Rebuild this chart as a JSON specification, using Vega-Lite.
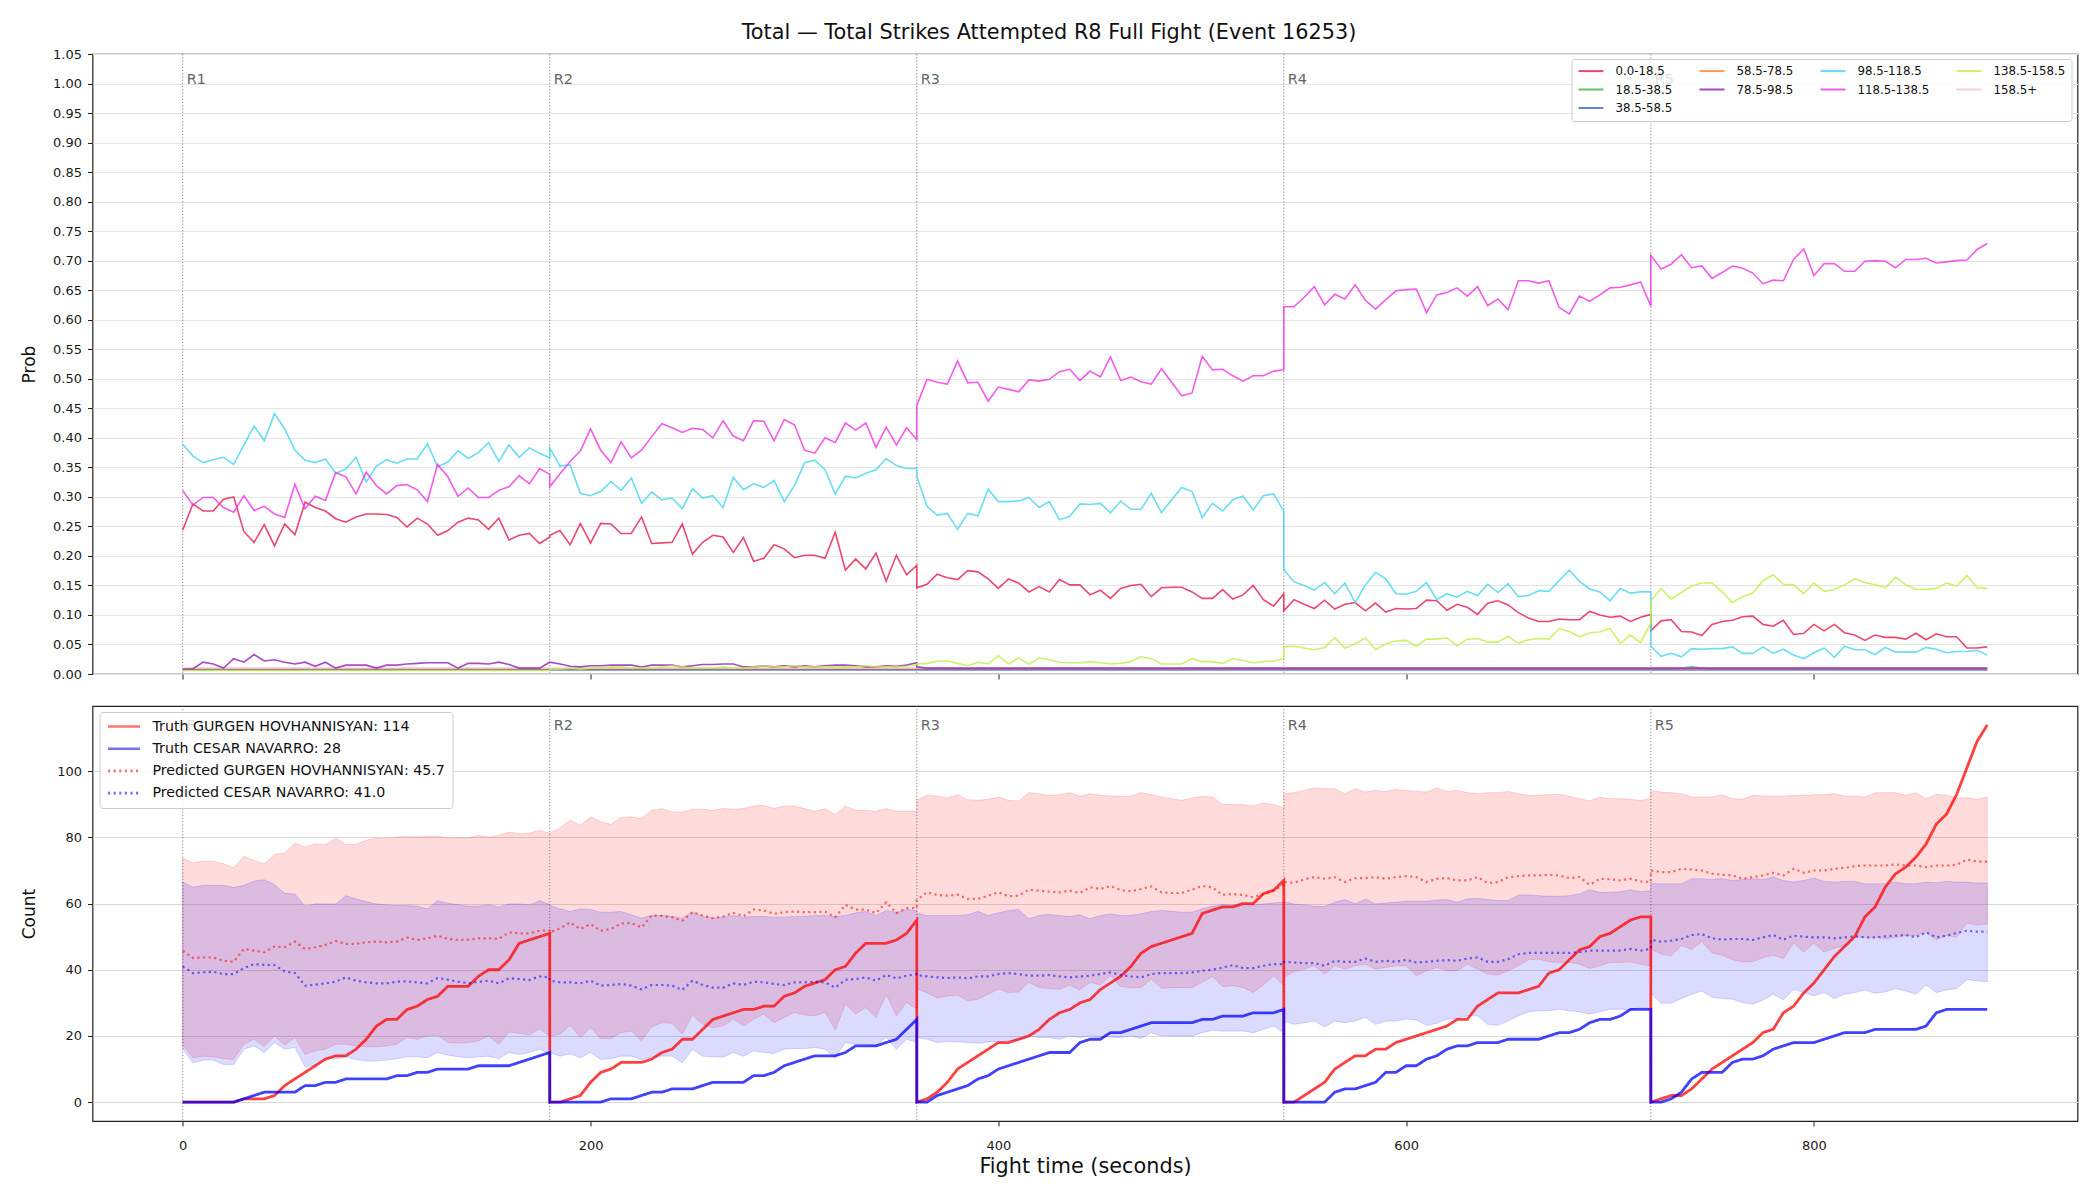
{
"$schema": "https://vega.github.io/schema/vega-lite/v6.json",
"background": "white",
"padding": {"left": 19.5, "top": 21, "right": 22, "bottom": 8},
"title": {"text": "Total — Total Strikes Attempted R8 Full Fight (Event 16253)", "font": "DejaVu Sans", "fontSize": 20.8, "fontWeight": "normal", "color": "#111", "offset": 4, "anchor": "middle"},
"config": {
  "font": "DejaVu Sans",
  "view": {"stroke": "#222", "strokeWidth": 1.2},
  "axis": {"labelFont": "DejaVu Sans", "labelFontSize": 13, "labelColor": "#1a1a1a", "titleFont": "DejaVu Sans", "titleFontWeight": "normal", "titleColor": "#111", "tickColor": "#222", "tickSize": 5, "tickWidth": 1, "domain": false, "labelPadding": 6, "labelFlush": false, "labelOverlap": false, "gridColor": "#e4e4e4", "gridWidth": 1},
  "legend": {"labelFont": "DejaVu Sans", "labelColor": "#111"}
},
"datasets": {
"rounds": [{"t":0,"r":"R1"},{"t":180,"r":"R2"},{"t":360,"r":"R3"},{"t":540,"r":"R4"},{"t":720,"r":"R5"}],
"flat": [
{"bin":"g","t":0,"v":0.008},{"bin":"g","t":730,"v":0.008},{"bin":"g","t":740,"v":0.012},{"bin":"g","t":750,"v":0.008},{"bin":"g","t":885,"v":0.008},
{"bin":"b","t":0,"v":0.007},{"bin":"b","t":885,"v":0.007},
{"bin":"o","t":0,"v":0.009},{"bin":"o","t":885,"v":0.009},
{"bin":"k","t":0,"v":0.01},{"bin":"k","t":885,"v":0.01}
],
"d": [
{"i":0,"t":0,"a":0.244,"p":0.008,"c":0.389,"m":0.311,"l":0.006,"tg":0,"tc":0,"pg":45.7,"pc":41.0,"gl":17.2,"gh":73.7,"cl":16.0,"ch":66.5},
{"i":1,"t":5,"a":0.288,"p":0.009,"c":0.369,"m":0.286,"l":0.006,"tg":0,"tc":0,"pg":43.6,"pc":39.0,"gl":13.4,"gh":72.3,"cl":11.9,"ch":64.9},
{"i":2,"t":10,"a":0.276,"p":0.020,"c":0.358,"m":0.299,"l":0.006,"tg":0,"tc":0,"pg":43.7,"pc":39.2,"gl":13.9,"gh":72.8,"cl":12.7,"ch":65.5},
{"i":3,"t":15,"a":0.276,"p":0.017,"c":0.363,"m":0.299,"l":0.006,"tg":0,"tc":0,"pg":43.7,"pc":39.4,"gl":13.7,"gh":72.8,"cl":12.7,"ch":65.5},
{"i":4,"t":20,"a":0.296,"p":0.010,"c":0.367,"m":0.282,"l":0.006,"tg":0,"tc":0,"pg":42.7,"pc":38.7,"gl":13.1,"gh":72.0,"cl":11.4,"ch":65.5},
{"i":5,"t":25,"a":0.300,"p":0.026,"c":0.355,"m":0.274,"l":0.006,"tg":0,"tc":0,"pg":42.4,"pc":38.7,"gl":12.9,"gh":70.8,"cl":11.4,"ch":64.9},
{"i":6,"t":30,"a":0.241,"p":0.020,"c":0.388,"m":0.302,"l":0.006,"tg":1,"tc":1,"pg":46.3,"pc":40.5,"gl":17.5,"gh":74.3,"cl":16.0,"ch":65.5},
{"i":7,"t":35,"a":0.223,"p":0.033,"c":0.420,"m":0.277,"l":0.006,"tg":1,"tc":2,"pg":45.8,"pc":41.7,"gl":19.0,"gh":73.0,"cl":17.0,"ch":66.8},
{"i":8,"t":40,"a":0.253,"p":0.022,"c":0.395,"m":0.284,"l":0.006,"tg":1,"tc":3,"pg":45.3,"pc":41.5,"gl":16.8,"gh":72.0,"cl":15.0,"ch":67.2},
{"i":9,"t":45,"a":0.217,"p":0.024,"c":0.441,"m":0.271,"l":0.006,"tg":2,"tc":3,"pg":47.0,"pc":41.4,"gl":20.0,"gh":74.8,"cl":18.0,"ch":65.7},
{"i":10,"t":50,"a":0.254,"p":0.020,"c":0.415,"m":0.265,"l":0.006,"tg":5,"tc":3,"pg":46.8,"pc":39.5,"gl":17.2,"gh":75.3,"cl":16.0,"ch":63.1},
{"i":11,"t":55,"a":0.236,"p":0.017,"c":0.379,"m":0.321,"l":0.006,"tg":7,"tc":3,"pg":48.5,"pc":39.0,"gl":19.5,"gh":78.3,"cl":16.5,"ch":62.9},
{"i":12,"t":60,"a":0.291,"p":0.020,"c":0.362,"m":0.280,"l":0.006,"tg":9,"tc":5,"pg":46.3,"pc":35.2,"gl":14.4,"gh":77.1,"cl":10.7,"ch":59.2},
{"i":13,"t":65,"a":0.282,"p":0.013,"c":0.358,"m":0.301,"l":0.006,"tg":11,"tc":5,"pg":46.8,"pc":35.5,"gl":15.5,"gh":78.1,"cl":11.1,"ch":59.9},
{"i":14,"t":70,"a":0.276,"p":0.020,"c":0.364,"m":0.294,"l":0.006,"tg":13,"tc":6,"pg":47.5,"pc":35.9,"gl":16.0,"gh":77.8,"cl":13.1,"ch":59.9},
{"i":15,"t":75,"a":0.263,"p":0.010,"c":0.340,"m":0.341,"l":0.006,"tg":14,"tc":6,"pg":48.7,"pc":36.4,"gl":17.5,"gh":79.8,"cl":13.1,"ch":59.9},
{"i":16,"t":80,"a":0.257,"p":0.015,"c":0.347,"m":0.334,"l":0.006,"tg":14,"tc":7,"pg":47.8,"pc":37.7,"gl":17.5,"gh":77.8,"cl":13.7,"ch":62.4},
{"i":17,"t":85,"a":0.266,"p":0.015,"c":0.367,"m":0.305,"l":0.006,"tg":16,"tc":7,"pg":47.8,"pc":36.7,"gl":17.0,"gh":77.9,"cl":12.9,"ch":61.4},
{"i":18,"t":90,"a":0.271,"p":0.015,"c":0.325,"m":0.342,"l":0.006,"tg":19,"tc":7,"pg":48.3,"pc":36.2,"gl":16.7,"gh":79.1,"cl":12.4,"ch":60.6},
{"i":19,"t":95,"a":0.271,"p":0.010,"c":0.352,"m":0.319,"l":0.006,"tg":23,"tc":7,"pg":48.5,"pc":35.9,"gl":16.7,"gh":79.8,"cl":12.4,"ch":59.9},
{"i":20,"t":100,"a":0.270,"p":0.015,"c":0.363,"m":0.305,"l":0.006,"tg":25,"tc":7,"pg":48.3,"pc":35.9,"gl":17.0,"gh":79.6,"cl":12.7,"ch":59.6},
{"i":21,"t":105,"a":0.265,"p":0.015,"c":0.357,"m":0.319,"l":0.006,"tg":25,"tc":8,"pg":48.5,"pc":36.4,"gl":17.5,"gh":80.1,"cl":13.1,"ch":59.4},
{"i":22,"t":110,"a":0.249,"p":0.017,"c":0.364,"m":0.321,"l":0.006,"tg":28,"tc":8,"pg":49.7,"pc":36.5,"gl":19.5,"gh":80.3,"cl":13.7,"ch":59.4},
{"i":23,"t":115,"a":0.264,"p":0.018,"c":0.364,"m":0.312,"l":0.006,"tg":29,"tc":9,"pg":49.0,"pc":36.2,"gl":19.0,"gh":80.1,"cl":13.7,"ch":59.2},
{"i":24,"t":120,"a":0.254,"p":0.019,"c":0.390,"m":0.292,"l":0.006,"tg":31,"tc":9,"pg":49.5,"pc":35.9,"gl":20.0,"gh":80.3,"cl":13.4,"ch":58.4},
{"i":25,"t":125,"a":0.235,"p":0.019,"c":0.351,"m":0.355,"l":0.006,"tg":32,"tc":10,"pg":50.3,"pc":37.5,"gl":20.2,"gh":80.4,"cl":15.0,"ch":60.9},
{"i":26,"t":130,"a":0.243,"p":0.019,"c":0.359,"m":0.334,"l":0.006,"tg":35,"tc":10,"pg":49.3,"pc":37.0,"gl":18.0,"gh":79.8,"cl":14.2,"ch":60.1},
{"i":27,"t":135,"a":0.257,"p":0.010,"c":0.378,"m":0.301,"l":0.006,"tg":35,"tc":10,"pg":49.0,"pc":36.4,"gl":17.8,"gh":79.9,"cl":13.7,"ch":59.7},
{"i":28,"t":140,"a":0.264,"p":0.018,"c":0.365,"m":0.315,"l":0.006,"tg":35,"tc":10,"pg":49.1,"pc":35.9,"gl":18.0,"gh":79.8,"cl":13.4,"ch":59.2},
{"i":29,"t":145,"a":0.261,"p":0.018,"c":0.375,"m":0.299,"l":0.006,"tg":38,"tc":11,"pg":49.5,"pc":36.4,"gl":18.5,"gh":80.6,"cl":13.7,"ch":59.2},
{"i":30,"t":150,"a":0.245,"p":0.017,"c":0.392,"m":0.299,"l":0.006,"tg":40,"tc":11,"pg":49.5,"pc":36.7,"gl":20.0,"gh":80.1,"cl":13.9,"ch":59.6},
{"i":31,"t":155,"a":0.264,"p":0.020,"c":0.360,"m":0.311,"l":0.006,"tg":40,"tc":11,"pg":49.3,"pc":35.9,"gl":17.5,"gh":80.6,"cl":13.1,"ch":59.0},
{"i":32,"t":160,"a":0.227,"p":0.016,"c":0.388,"m":0.317,"l":0.006,"tg":43,"tc":11,"pg":51.3,"pc":37.4,"gl":21.2,"gh":81.6,"cl":15.0,"ch":59.9},
{"i":33,"t":165,"a":0.235,"p":0.010,"c":0.367,"m":0.336,"l":0.006,"tg":48,"tc":12,"pg":51.0,"pc":37.2,"gl":20.8,"gh":81.1,"cl":14.4,"ch":59.9},
{"i":34,"t":170,"a":0.238,"p":0.010,"c":0.383,"m":0.322,"l":0.006,"tg":49,"tc":13,"pg":51.0,"pc":36.9,"gl":20.3,"gh":81.3,"cl":15.0,"ch":59.6},
{"i":35,"t":175,"a":0.221,"p":0.010,"c":0.374,"m":0.348,"l":0.006,"tg":50,"tc":14,"pg":51.8,"pc":38.0,"gl":22.2,"gh":82.1,"cl":16.0,"ch":60.9},
{"i":36,"t":180,"a":0.232,"p":0.020,"c":0.366,"m":0.338,"l":0.006,"tg":51,"tc":15,"pg":51.8,"pc":37.7,"gl":20.0,"gh":81.3,"cl":14.4,"ch":59.7},
{"i":37,"t":180,"a":0.235,"p":0.020,"c":0.383,"m":0.317,"l":0.008,"tg":0,"tc":0,"pg":51.3,"pc":36.7,"gl":20.0,"gh":81.3,"cl":15.0,"ch":59.4},
{"i":38,"t":185,"a":0.243,"p":0.017,"c":0.352,"m":0.339,"l":0.008,"tg":0,"tc":0,"pg":52.5,"pc":36.2,"gl":20.5,"gh":82.8,"cl":13.9,"ch":58.4},
{"i":39,"t":190,"a":0.219,"p":0.013,"c":0.354,"m":0.360,"l":0.010,"tg":1,"tc":0,"pg":54.3,"pc":36.2,"gl":23.2,"gh":85.2,"cl":14.6,"ch":57.6},
{"i":40,"t":195,"a":0.255,"p":0.012,"c":0.306,"m":0.378,"l":0.008,"tg":2,"tc":0,"pg":52.3,"pc":35.9,"gl":19.5,"gh":83.6,"cl":13.4,"ch":58.4},
{"i":41,"t":200,"a":0.222,"p":0.014,"c":0.302,"m":0.415,"l":0.010,"tg":6,"tc":0,"pg":53.8,"pc":36.7,"gl":22.5,"gh":86.2,"cl":15.0,"ch":58.2},
{"i":42,"t":205,"a":0.255,"p":0.014,"c":0.309,"m":0.379,"l":0.010,"tg":9,"tc":0,"pg":51.8,"pc":35.2,"gl":19.2,"gh":84.8,"cl":12.9,"ch":57.4},
{"i":43,"t":210,"a":0.254,"p":0.015,"c":0.326,"m":0.358,"l":0.012,"tg":10,"tc":1,"pg":52.3,"pc":35.4,"gl":19.2,"gh":83.9,"cl":13.1,"ch":57.4},
{"i":44,"t":215,"a":0.238,"p":0.015,"c":0.311,"m":0.393,"l":0.012,"tg":12,"tc":1,"pg":54.0,"pc":35.7,"gl":21.0,"gh":86.0,"cl":13.9,"ch":57.6},
{"i":45,"t":220,"a":0.238,"p":0.015,"c":0.332,"m":0.366,"l":0.010,"tg":12,"tc":1,"pg":54.1,"pc":35.2,"gl":21.5,"gh":86.2,"cl":13.9,"ch":56.6},
{"i":46,"t":225,"a":0.266,"p":0.012,"c":0.289,"m":0.379,"l":0.010,"tg":12,"tc":2,"pg":52.8,"pc":34.1,"gl":18.5,"gh":85.7,"cl":12.9,"ch":55.6},
{"i":47,"t":230,"a":0.221,"p":0.015,"c":0.308,"m":0.402,"l":0.010,"tg":13,"tc":3,"pg":56.4,"pc":35.4,"gl":22.8,"gh":88.2,"cl":13.7,"ch":56.4},
{"i":48,"t":235,"a":0.222,"p":0.015,"c":0.295,"m":0.424,"l":0.012,"tg":15,"tc":3,"pg":56.3,"pc":35.4,"gl":24.0,"gh":88.7,"cl":13.9,"ch":56.4},
{"i":49,"t":240,"a":0.223,"p":0.015,"c":0.298,"m":0.417,"l":0.014,"tg":16,"tc":4,"pg":55.9,"pc":35.2,"gl":23.8,"gh":87.7,"cl":13.9,"ch":56.1},
{"i":50,"t":245,"a":0.254,"p":0.012,"c":0.280,"m":0.409,"l":0.012,"tg":19,"tc":4,"pg":54.8,"pc":33.9,"gl":20.5,"gh":87.7,"cl":11.9,"ch":55.6},
{"i":51,"t":250,"a":0.203,"p":0.014,"c":0.314,"m":0.416,"l":0.010,"tg":19,"tc":4,"pg":57.4,"pc":36.7,"gl":26.3,"gh":88.5,"cl":16.0,"ch":57.4},
{"i":52,"t":255,"a":0.223,"p":0.016,"c":0.298,"m":0.414,"l":0.010,"tg":22,"tc":5,"pg":56.4,"pc":35.4,"gl":23.5,"gh":88.5,"cl":13.9,"ch":56.1},
{"i":53,"t":260,"a":0.235,"p":0.016,"c":0.302,"m":0.400,"l":0.010,"tg":25,"tc":6,"pg":55.6,"pc":34.6,"gl":22.5,"gh":88.2,"cl":13.7,"ch":55.6},
{"i":54,"t":265,"a":0.232,"p":0.017,"c":0.282,"m":0.429,"l":0.012,"tg":26,"tc":6,"pg":56.1,"pc":34.6,"gl":23.0,"gh":88.7,"cl":13.6,"ch":55.9},
{"i":55,"t":270,"a":0.206,"p":0.017,"c":0.333,"m":0.403,"l":0.010,"tg":27,"tc":6,"pg":57.2,"pc":35.9,"gl":25.1,"gh":88.5,"cl":15.0,"ch":56.4},
{"i":56,"t":275,"a":0.231,"p":0.012,"c":0.312,"m":0.395,"l":0.010,"tg":28,"tc":6,"pg":56.2,"pc":35.4,"gl":23.0,"gh":88.7,"cl":13.9,"ch":55.9},
{"i":57,"t":280,"a":0.191,"p":0.012,"c":0.322,"m":0.429,"l":0.012,"tg":28,"tc":8,"pg":58.2,"pc":36.4,"gl":25.1,"gh":89.5,"cl":15.5,"ch":56.1},
{"i":58,"t":285,"a":0.196,"p":0.014,"c":0.316,"m":0.428,"l":0.014,"tg":29,"tc":8,"pg":57.9,"pc":36.2,"gl":26.6,"gh":89.7,"cl":15.0,"ch":56.1},
{"i":59,"t":290,"a":0.219,"p":0.012,"c":0.328,"m":0.395,"l":0.012,"tg":29,"tc":9,"pg":56.9,"pc":35.7,"gl":24.0,"gh":88.7,"cl":14.7,"ch":55.9},
{"i":60,"t":295,"a":0.212,"p":0.014,"c":0.292,"m":0.431,"l":0.012,"tg":32,"tc":11,"pg":57.4,"pc":35.4,"gl":25.6,"gh":89.5,"cl":16.0,"ch":55.9},
{"i":61,"t":300,"a":0.197,"p":0.012,"c":0.319,"m":0.422,"l":0.014,"tg":33,"tc":12,"pg":57.6,"pc":36.2,"gl":27.1,"gh":89.5,"cl":16.2,"ch":56.1},
{"i":62,"t":305,"a":0.201,"p":0.014,"c":0.358,"m":0.379,"l":0.012,"tg":35,"tc":13,"pg":57.4,"pc":36.2,"gl":26.3,"gh":88.7,"cl":16.2,"ch":56.2},
{"i":63,"t":310,"a":0.201,"p":0.012,"c":0.362,"m":0.374,"l":0.012,"tg":36,"tc":14,"pg":57.4,"pc":36.4,"gl":26.1,"gh":87.9,"cl":16.5,"ch":56.4},
{"i":64,"t":315,"a":0.196,"p":0.014,"c":0.346,"m":0.400,"l":0.012,"tg":37,"tc":14,"pg":57.6,"pc":36.2,"gl":27.1,"gh":88.7,"cl":16.0,"ch":56.4},
{"i":65,"t":320,"a":0.240,"p":0.015,"c":0.305,"m":0.392,"l":0.012,"tg":40,"tc":14,"pg":55.9,"pc":34.6,"gl":21.8,"gh":86.9,"cl":13.4,"ch":56.1},
{"i":66,"t":325,"a":0.176,"p":0.015,"c":0.335,"m":0.425,"l":0.012,"tg":41,"tc":15,"pg":59.6,"pc":37.0,"gl":29.6,"gh":89.5,"cl":18.0,"ch":56.4},
{"i":67,"t":330,"a":0.195,"p":0.014,"c":0.332,"m":0.413,"l":0.012,"tg":45,"tc":17,"pg":58.2,"pc":37.2,"gl":26.6,"gh":88.2,"cl":17.5,"ch":57.2},
{"i":68,"t":335,"a":0.178,"p":0.012,"c":0.340,"m":0.425,"l":0.014,"tg":48,"tc":17,"pg":58.2,"pc":37.7,"gl":28.6,"gh":88.2,"cl":17.5,"ch":57.6},
{"i":69,"t":340,"a":0.205,"p":0.012,"c":0.346,"m":0.384,"l":0.012,"tg":48,"tc":17,"pg":57.1,"pc":36.7,"gl":25.6,"gh":87.9,"cl":17.0,"ch":56.4},
{"i":70,"t":345,"a":0.157,"p":0.014,"c":0.365,"m":0.418,"l":0.012,"tg":48,"tc":18,"pg":60.4,"pc":38.4,"gl":32.6,"gh":88.7,"cl":19.7,"ch":57.9},
{"i":71,"t":350,"a":0.201,"p":0.013,"c":0.353,"m":0.388,"l":0.012,"tg":49,"tc":19,"pg":57.1,"pc":37.4,"gl":26.1,"gh":87.9,"cl":16.0,"ch":57.4},
{"i":72,"t":355,"a":0.168,"p":0.015,"c":0.348,"m":0.417,"l":0.013,"tg":51,"tc":22,"pg":58.6,"pc":38.2,"gl":30.1,"gh":87.9,"cl":19.0,"ch":58.2},
{"i":73,"t":360,"a":0.184,"p":0.019,"c":0.348,"m":0.397,"l":0.016,"tg":55,"tc":25,"pg":58.6,"pc":38.7,"gl":28.1,"gh":87.9,"cl":18.0,"ch":57.9},
{"i":74,"t":360,"a":0.146,"p":0.012,"c":0.335,"m":0.455,"l":0.017,"tg":0,"tc":0,"pg":61.1,"pc":38.4,"gl":34.1,"gh":91.2,"cl":19.5,"ch":57.1},
{"i":75,"t":365,"a":0.152,"p":0.010,"c":0.284,"m":0.499,"l":0.018,"tg":1,"tc":0,"pg":63.4,"pc":38.0,"gl":33.1,"gh":92.7,"cl":19.0,"ch":56.4},
{"i":76,"t":370,"a":0.169,"p":0.010,"c":0.269,"m":0.494,"l":0.022,"tg":3,"tc":2,"pg":62.6,"pc":37.7,"gl":31.4,"gh":92.5,"cl":18.0,"ch":56.4},
{"i":77,"t":375,"a":0.163,"p":0.010,"c":0.272,"m":0.491,"l":0.022,"tg":6,"tc":3,"pg":62.4,"pc":37.5,"gl":32.1,"gh":91.9,"cl":18.3,"ch":56.4},
{"i":78,"t":380,"a":0.160,"p":0.010,"c":0.245,"m":0.530,"l":0.018,"tg":10,"tc":4,"pg":62.7,"pc":37.7,"gl":32.3,"gh":92.9,"cl":18.2,"ch":56.4},
{"i":79,"t":385,"a":0.175,"p":0.010,"c":0.272,"m":0.493,"l":0.014,"tg":12,"tc":5,"pg":61.4,"pc":37.4,"gl":30.6,"gh":91.4,"cl":18.0,"ch":56.6},
{"i":80,"t":390,"a":0.173,"p":0.010,"c":0.268,"m":0.494,"l":0.020,"tg":14,"tc":7,"pg":61.4,"pc":38.0,"gl":31.1,"gh":91.2,"cl":17.8,"ch":57.7},
{"i":81,"t":395,"a":0.161,"p":0.010,"c":0.313,"m":0.462,"l":0.017,"tg":16,"tc":8,"pg":62.4,"pc":38.0,"gl":32.6,"gh":91.5,"cl":18.2,"ch":56.4},
{"i":82,"t":400,"a":0.145,"p":0.010,"c":0.292,"m":0.486,"l":0.031,"tg":18,"tc":10,"pg":63.4,"pc":38.7,"gl":34.1,"gh":92.2,"cl":18.2,"ch":57.2},
{"i":83,"t":405,"a":0.161,"p":0.010,"c":0.292,"m":0.482,"l":0.017,"tg":18,"tc":11,"pg":62.2,"pc":39.0,"gl":33.1,"gh":91.2,"cl":18.5,"ch":57.9},
{"i":84,"t":410,"a":0.154,"p":0.010,"c":0.293,"m":0.478,"l":0.027,"tg":19,"tc":12,"pg":62.4,"pc":38.7,"gl":33.3,"gh":91.0,"cl":18.8,"ch":58.2},
{"i":85,"t":415,"a":0.139,"p":0.010,"c":0.299,"m":0.498,"l":0.017,"tg":20,"tc":13,"pg":64.2,"pc":38.2,"gl":36.2,"gh":93.5,"cl":20.0,"ch":55.4},
{"i":86,"t":420,"a":0.148,"p":0.010,"c":0.282,"m":0.496,"l":0.027,"tg":22,"tc":14,"pg":63.9,"pc":38.2,"gl":34.6,"gh":93.2,"cl":19.5,"ch":56.4},
{"i":87,"t":425,"a":0.139,"p":0.010,"c":0.292,"m":0.499,"l":0.024,"tg":25,"tc":15,"pg":63.6,"pc":38.4,"gl":34.3,"gh":92.7,"cl":19.5,"ch":56.7},
{"i":88,"t":430,"a":0.160,"p":0.010,"c":0.261,"m":0.512,"l":0.020,"tg":27,"tc":15,"pg":63.4,"pc":38.0,"gl":34.1,"gh":92.9,"cl":19.0,"ch":56.4},
{"i":89,"t":435,"a":0.151,"p":0.010,"c":0.267,"m":0.516,"l":0.019,"tg":28,"tc":15,"pg":63.9,"pc":37.7,"gl":35.4,"gh":93.5,"cl":20.0,"ch":56.1},
{"i":90,"t":440,"a":0.151,"p":0.010,"c":0.288,"m":0.497,"l":0.019,"tg":30,"tc":18,"pg":63.2,"pc":38.0,"gl":33.9,"gh":92.4,"cl":19.5,"ch":56.6},
{"i":91,"t":445,"a":0.134,"p":0.010,"c":0.287,"m":0.513,"l":0.021,"tg":31,"tc":19,"pg":64.9,"pc":38.2,"gl":36.2,"gh":93.2,"cl":20.0,"ch":55.4},
{"i":92,"t":450,"a":0.142,"p":0.010,"c":0.289,"m":0.503,"l":0.019,"tg":34,"tc":19,"pg":64.4,"pc":38.7,"gl":35.4,"gh":92.7,"cl":19.7,"ch":56.4},
{"i":93,"t":455,"a":0.128,"p":0.010,"c":0.273,"m":0.537,"l":0.017,"tg":36,"tc":21,"pg":65.3,"pc":39.2,"gl":38.2,"gh":92.5,"cl":19.7,"ch":56.9},
{"i":94,"t":460,"a":0.145,"p":0.010,"c":0.293,"m":0.497,"l":0.018,"tg":38,"tc":21,"pg":64.1,"pc":38.4,"gl":34.9,"gh":92.4,"cl":19.5,"ch":56.4},
{"i":95,"t":465,"a":0.150,"p":0.010,"c":0.279,"m":0.503,"l":0.021,"tg":41,"tc":22,"pg":63.7,"pc":38.0,"gl":34.6,"gh":92.4,"cl":20.0,"ch":56.4},
{"i":96,"t":470,"a":0.152,"p":0.010,"c":0.279,"m":0.495,"l":0.029,"tg":45,"tc":23,"pg":64.4,"pc":37.7,"gl":34.6,"gh":93.5,"cl":19.2,"ch":56.9},
{"i":97,"t":475,"a":0.131,"p":0.010,"c":0.306,"m":0.491,"l":0.026,"tg":47,"tc":24,"pg":65.2,"pc":38.7,"gl":37.2,"gh":92.9,"cl":21.0,"ch":57.6},
{"i":98,"t":480,"a":0.146,"p":0.010,"c":0.273,"m":0.517,"l":0.017,"tg":48,"tc":24,"pg":63.4,"pc":39.0,"gl":34.3,"gh":92.2,"cl":20.0,"ch":57.9},
{"i":99,"t":485,"a":0.147,"p":0.010,"c":0.295,"m":0.494,"l":0.017,"tg":49,"tc":24,"pg":63.2,"pc":39.0,"gl":34.6,"gh":91.7,"cl":20.0,"ch":57.7},
{"i":100,"t":490,"a":0.147,"p":0.010,"c":0.316,"m":0.471,"l":0.017,"tg":50,"tc":24,"pg":63.2,"pc":39.0,"gl":34.6,"gh":91.2,"cl":20.0,"ch":57.4},
{"i":101,"t":495,"a":0.139,"p":0.010,"c":0.309,"m":0.476,"l":0.026,"tg":51,"tc":24,"pg":64.2,"pc":39.2,"gl":34.6,"gh":91.9,"cl":20.0,"ch":57.4},
{"i":102,"t":500,"a":0.128,"p":0.010,"c":0.265,"m":0.538,"l":0.021,"tg":57,"tc":25,"pg":65.3,"pc":39.7,"gl":36.2,"gh":92.4,"cl":21.0,"ch":58.4},
{"i":103,"t":505,"a":0.128,"p":0.010,"c":0.289,"m":0.515,"l":0.021,"tg":58,"tc":25,"pg":64.9,"pc":40.0,"gl":38.0,"gh":92.2,"cl":21.7,"ch":59.2},
{"i":104,"t":510,"a":0.143,"p":0.010,"c":0.276,"m":0.516,"l":0.018,"tg":59,"tc":26,"pg":62.6,"pc":40.7,"gl":34.9,"gh":90.0,"cl":21.5,"ch":59.7},
{"i":105,"t":515,"a":0.127,"p":0.010,"c":0.295,"m":0.505,"l":0.026,"tg":59,"tc":26,"pg":62.9,"pc":41.4,"gl":35.2,"gh":89.9,"cl":21.5,"ch":59.6},
{"i":106,"t":520,"a":0.134,"p":0.010,"c":0.301,"m":0.496,"l":0.023,"tg":60,"tc":26,"pg":62.6,"pc":40.5,"gl":34.6,"gh":89.9,"cl":21.5,"ch":59.9},
{"i":107,"t":525,"a":0.150,"p":0.010,"c":0.278,"m":0.505,"l":0.019,"tg":60,"tc":27,"pg":61.9,"pc":40.5,"gl":33.1,"gh":89.5,"cl":21.0,"ch":59.6},
{"i":108,"t":530,"a":0.126,"p":0.010,"c":0.302,"m":0.505,"l":0.021,"tg":63,"tc":27,"pg":62.9,"pc":41.2,"gl":35.4,"gh":90.4,"cl":22.0,"ch":59.9},
{"i":109,"t":535,"a":0.115,"p":0.010,"c":0.305,"m":0.513,"l":0.022,"tg":64,"tc":27,"pg":63.9,"pc":41.7,"gl":38.2,"gh":89.9,"cl":23.0,"ch":60.2},
{"i":110,"t":540,"a":0.136,"p":0.010,"c":0.276,"m":0.515,"l":0.026,"tg":67,"tc":28,"pg":65.7,"pc":41.7,"gl":35.2,"gh":88.9,"cl":21.0,"ch":60.4},
{"i":111,"t":540,"a":0.107,"p":0.010,"c":0.177,"m":0.622,"l":0.046,"tg":0,"tc":0,"pg":66.5,"pc":42.4,"gl":37.7,"gh":93.2,"cl":24.5,"ch":60.6},
{"i":112,"t":545,"a":0.126,"p":0.010,"c":0.156,"m":0.622,"l":0.047,"tg":0,"tc":0,"pg":66.3,"pc":42.2,"gl":39.4,"gh":93.5,"cl":23.5,"ch":59.9},
{"i":113,"t":550,"a":0.118,"p":0.010,"c":0.150,"m":0.638,"l":0.044,"tg":2,"tc":0,"pg":67.3,"pc":42.0,"gl":40.2,"gh":94.2,"cl":24.0,"ch":59.6},
{"i":114,"t":555,"a":0.111,"p":0.010,"c":0.142,"m":0.656,"l":0.041,"tg":4,"tc":0,"pg":68.0,"pc":42.0,"gl":41.2,"gh":94.9,"cl":24.5,"ch":59.2},
{"i":115,"t":560,"a":0.125,"p":0.010,"c":0.155,"m":0.625,"l":0.045,"tg":6,"tc":0,"pg":67.5,"pc":41.2,"gl":38.7,"gh":94.7,"cl":22.7,"ch":59.1},
{"i":116,"t":565,"a":0.110,"p":0.010,"c":0.136,"m":0.643,"l":0.061,"tg":10,"tc":3,"pg":68.0,"pc":42.7,"gl":41.2,"gh":94.7,"cl":24.5,"ch":60.4},
{"i":117,"t":570,"a":0.118,"p":0.010,"c":0.154,"m":0.635,"l":0.044,"tg":12,"tc":4,"pg":66.5,"pc":42.4,"gl":40.2,"gh":93.2,"cl":24.0,"ch":61.2},
{"i":118,"t":575,"a":0.121,"p":0.010,"c":0.121,"m":0.659,"l":0.051,"tg":14,"tc":4,"pg":67.7,"pc":42.4,"gl":41.2,"gh":94.7,"cl":24.5,"ch":59.9},
{"i":119,"t":580,"a":0.107,"p":0.010,"c":0.151,"m":0.633,"l":0.061,"tg":14,"tc":5,"pg":67.7,"pc":43.4,"gl":41.7,"gh":93.7,"cl":25.6,"ch":61.4},
{"i":120,"t":585,"a":0.120,"p":0.010,"c":0.172,"m":0.618,"l":0.041,"tg":16,"tc":6,"pg":68.0,"pc":42.4,"gl":40.2,"gh":94.2,"cl":23.5,"ch":59.9},
{"i":121,"t":590,"a":0.105,"p":0.010,"c":0.161,"m":0.634,"l":0.051,"tg":16,"tc":9,"pg":67.5,"pc":42.7,"gl":40.7,"gh":93.9,"cl":24.5,"ch":60.2},
{"i":122,"t":595,"a":0.111,"p":0.010,"c":0.136,"m":0.649,"l":0.056,"tg":18,"tc":9,"pg":68.0,"pc":42.4,"gl":41.2,"gh":94.5,"cl":24.5,"ch":60.4},
{"i":123,"t":600,"a":0.110,"p":0.010,"c":0.135,"m":0.651,"l":0.057,"tg":19,"tc":11,"pg":68.3,"pc":43.0,"gl":41.2,"gh":94.2,"cl":25.1,"ch":60.7},
{"i":124,"t":605,"a":0.111,"p":0.010,"c":0.140,"m":0.652,"l":0.047,"tg":20,"tc":11,"pg":68.0,"pc":42.2,"gl":38.2,"gh":93.9,"cl":24.8,"ch":60.7},
{"i":125,"t":610,"a":0.125,"p":0.010,"c":0.155,"m":0.612,"l":0.059,"tg":21,"tc":13,"pg":66.5,"pc":42.4,"gl":39.7,"gh":93.7,"cl":23.2,"ch":60.7},
{"i":126,"t":615,"a":0.124,"p":0.010,"c":0.126,"m":0.642,"l":0.059,"tg":22,"tc":14,"pg":67.5,"pc":42.7,"gl":40.7,"gh":94.9,"cl":23.8,"ch":61.1},
{"i":127,"t":620,"a":0.108,"p":0.010,"c":0.136,"m":0.646,"l":0.061,"tg":23,"tc":16,"pg":67.7,"pc":42.9,"gl":39.7,"gh":93.9,"cl":25.1,"ch":61.2},
{"i":128,"t":625,"a":0.118,"p":0.010,"c":0.130,"m":0.654,"l":0.048,"tg":25,"tc":17,"pg":67.0,"pc":42.7,"gl":39.7,"gh":94.2,"cl":25.3,"ch":60.4},
{"i":129,"t":630,"a":0.113,"p":0.010,"c":0.140,"m":0.640,"l":0.059,"tg":25,"tc":17,"pg":67.0,"pc":43.4,"gl":41.7,"gh":93.5,"cl":26.1,"ch":61.4},
{"i":130,"t":635,"a":0.101,"p":0.010,"c":0.133,"m":0.656,"l":0.060,"tg":29,"tc":18,"pg":68.0,"pc":43.7,"gl":40.2,"gh":93.2,"cl":26.1,"ch":61.6},
{"i":131,"t":640,"a":0.120,"p":0.010,"c":0.152,"m":0.624,"l":0.054,"tg":31,"tc":18,"pg":66.2,"pc":42.4,"gl":38.7,"gh":93.5,"cl":23.5,"ch":61.2},
{"i":132,"t":645,"a":0.124,"p":0.010,"c":0.138,"m":0.635,"l":0.054,"tg":33,"tc":18,"pg":66.5,"pc":42.4,"gl":38.4,"gh":93.5,"cl":23.2,"ch":60.9},
{"i":133,"t":650,"a":0.117,"p":0.010,"c":0.153,"m":0.617,"l":0.064,"tg":33,"tc":19,"pg":68.0,"pc":43.2,"gl":39.7,"gh":93.9,"cl":24.5,"ch":60.9},
{"i":134,"t":655,"a":0.104,"p":0.010,"c":0.131,"m":0.666,"l":0.052,"tg":33,"tc":19,"pg":68.3,"pc":44.7,"gl":41.2,"gh":93.2,"cl":26.1,"ch":62.6},
{"i":135,"t":660,"a":0.095,"p":0.010,"c":0.133,"m":0.666,"l":0.058,"tg":34,"tc":19,"pg":68.5,"pc":45.1,"gl":43.0,"gh":92.7,"cl":27.3,"ch":62.6},
{"i":136,"t":665,"a":0.089,"p":0.010,"c":0.141,"m":0.662,"l":0.060,"tg":35,"tc":19,"pg":68.5,"pc":45.1,"gl":43.2,"gh":92.7,"cl":27.6,"ch":62.4},
{"i":137,"t":670,"a":0.089,"p":0.010,"c":0.140,"m":0.666,"l":0.059,"tg":39,"tc":20,"pg":68.7,"pc":45.1,"gl":42.4,"gh":92.9,"cl":27.6,"ch":62.2},
{"i":138,"t":675,"a":0.093,"p":0.010,"c":0.158,"m":0.621,"l":0.077,"tg":40,"tc":21,"pg":68.5,"pc":45.1,"gl":42.2,"gh":93.0,"cl":28.1,"ch":62.2},
{"i":139,"t":680,"a":0.092,"p":0.010,"c":0.176,"m":0.610,"l":0.072,"tg":43,"tc":21,"pg":67.7,"pc":45.1,"gl":42.2,"gh":92.4,"cl":27.6,"ch":62.4},
{"i":140,"t":685,"a":0.092,"p":0.010,"c":0.157,"m":0.640,"l":0.063,"tg":46,"tc":22,"pg":68.0,"pc":45.3,"gl":41.7,"gh":91.7,"cl":27.3,"ch":62.9},
{"i":141,"t":690,"a":0.106,"p":0.010,"c":0.144,"m":0.631,"l":0.070,"tg":47,"tc":24,"pg":65.7,"pc":45.8,"gl":40.4,"gh":91.0,"cl":26.6,"ch":64.2},
{"i":142,"t":695,"a":0.100,"p":0.010,"c":0.139,"m":0.642,"l":0.071,"tg":50,"tc":25,"pg":67.5,"pc":45.8,"gl":41.2,"gh":92.2,"cl":27.3,"ch":63.4},
{"i":143,"t":700,"a":0.096,"p":0.010,"c":0.124,"m":0.654,"l":0.077,"tg":51,"tc":25,"pg":67.3,"pc":45.8,"gl":42.2,"gh":91.7,"cl":28.1,"ch":63.4},
{"i":144,"t":705,"a":0.098,"p":0.010,"c":0.145,"m":0.655,"l":0.052,"tg":53,"tc":26,"pg":67.0,"pc":45.8,"gl":42.2,"gh":91.7,"cl":28.1,"ch":63.6},
{"i":145,"t":710,"a":0.089,"p":0.010,"c":0.137,"m":0.659,"l":0.066,"tg":55,"tc":28,"pg":67.5,"pc":46.3,"gl":42.4,"gh":91.5,"cl":27.9,"ch":64.2},
{"i":146,"t":715,"a":0.096,"p":0.010,"c":0.139,"m":0.664,"l":0.053,"tg":56,"tc":28,"pg":66.7,"pc":45.8,"gl":41.7,"gh":91.1,"cl":28.6,"ch":63.6},
{"i":147,"t":720,"a":0.101,"p":0.010,"c":0.139,"m":0.623,"l":0.086,"tg":56,"tc":28,"pg":66.5,"pc":46.3,"gl":41.2,"gh":91.9,"cl":28.3,"ch":63.9},
{"i":148,"t":720,"a":0.073,"p":0.010,"c":0.047,"m":0.709,"l":0.124,"tg":0,"tc":0,"pg":70.0,"pc":49.1,"gl":46.3,"gh":94.2,"cl":32.9,"ch":66.0},
{"i":149,"t":725,"a":0.090,"p":0.010,"c":0.030,"m":0.686,"l":0.145,"tg":1,"tc":0,"pg":69.5,"pc":48.5,"gl":44.7,"gh":93.7,"cl":29.9,"ch":66.0},
{"i":150,"t":730,"a":0.092,"p":0.010,"c":0.035,"m":0.694,"l":0.127,"tg":2,"tc":1,"pg":69.5,"pc":48.8,"gl":44.2,"gh":93.5,"cl":29.9,"ch":66.0},
{"i":151,"t":735,"a":0.072,"p":0.010,"c":0.029,"m":0.710,"l":0.138,"tg":2,"tc":3,"pg":70.5,"pc":49.3,"gl":47.3,"gh":93.2,"cl":31.3,"ch":66.0},
{"i":152,"t":740,"a":0.071,"p":0.010,"c":0.043,"m":0.688,"l":0.149,"tg":4,"tc":7,"pg":70.3,"pc":50.5,"gl":46.1,"gh":92.2,"cl":32.6,"ch":67.5},
{"i":153,"t":745,"a":0.065,"p":0.010,"c":0.042,"m":0.691,"l":0.154,"tg":7,"tc":9,"pg":70.0,"pc":50.8,"gl":48.5,"gh":92.2,"cl":33.6,"ch":67.5},
{"i":154,"t":750,"a":0.084,"p":0.010,"c":0.043,"m":0.670,"l":0.154,"tg":10,"tc":9,"pg":69.0,"pc":49.5,"gl":45.1,"gh":92.2,"cl":31.6,"ch":67.3},
{"i":155,"t":755,"a":0.089,"p":0.010,"c":0.043,"m":0.680,"l":0.139,"tg":12,"tc":9,"pg":68.7,"pc":49.1,"gl":44.4,"gh":92.9,"cl":31.3,"ch":67.5},
{"i":156,"t":760,"a":0.091,"p":0.010,"c":0.046,"m":0.691,"l":0.121,"tg":14,"tc":12,"pg":68.5,"pc":49.3,"gl":43.0,"gh":91.7,"cl":31.1,"ch":67.0},
{"i":157,"t":765,"a":0.097,"p":0.010,"c":0.035,"m":0.687,"l":0.131,"tg":16,"tc":13,"pg":67.5,"pc":49.3,"gl":42.4,"gh":91.5,"cl":30.1,"ch":67.3},
{"i":158,"t":770,"a":0.098,"p":0.010,"c":0.035,"m":0.679,"l":0.137,"tg":18,"tc":13,"pg":68.0,"pc":49.0,"gl":42.4,"gh":92.7,"cl":29.6,"ch":67.5},
{"i":159,"t":775,"a":0.084,"p":0.010,"c":0.046,"m":0.661,"l":0.158,"tg":21,"tc":14,"pg":68.5,"pc":49.8,"gl":43.7,"gh":92.5,"cl":30.9,"ch":67.3},
{"i":160,"t":780,"a":0.081,"p":0.010,"c":0.035,"m":0.667,"l":0.168,"tg":22,"tc":16,"pg":69.3,"pc":50.5,"gl":44.4,"gh":92.5,"cl":32.6,"ch":68.0},
{"i":161,"t":785,"a":0.091,"p":0.010,"c":0.042,"m":0.666,"l":0.152,"tg":27,"tc":17,"pg":68.5,"pc":49.1,"gl":43.4,"gh":92.5,"cl":30.9,"ch":67.0},
{"i":162,"t":790,"a":0.067,"p":0.010,"c":0.032,"m":0.702,"l":0.151,"tg":29,"tc":18,"pg":70.5,"pc":50.3,"gl":48.1,"gh":92.7,"cl":34.1,"ch":66.5},
{"i":163,"t":795,"a":0.069,"p":0.010,"c":0.026,"m":0.720,"l":0.136,"tg":33,"tc":18,"pg":69.3,"pc":50.0,"gl":45.3,"gh":92.7,"cl":33.1,"ch":67.0},
{"i":164,"t":800,"a":0.084,"p":0.010,"c":0.036,"m":0.675,"l":0.154,"tg":36,"tc":18,"pg":70.0,"pc":49.8,"gl":48.1,"gh":92.9,"cl":32.1,"ch":67.7},
{"i":165,"t":805,"a":0.073,"p":0.010,"c":0.044,"m":0.695,"l":0.140,"tg":40,"tc":19,"pg":70.0,"pc":49.8,"gl":45.3,"gh":92.9,"cl":33.1,"ch":66.7},
{"i":166,"t":810,"a":0.084,"p":0.010,"c":0.028,"m":0.695,"l":0.143,"tg":44,"tc":20,"pg":70.5,"pc":49.5,"gl":46.5,"gh":93.2,"cl":31.3,"ch":66.5},
{"i":167,"t":815,"a":0.070,"p":0.010,"c":0.047,"m":0.682,"l":0.151,"tg":47,"tc":21,"pg":70.8,"pc":49.8,"gl":47.3,"gh":92.5,"cl":32.6,"ch":66.7},
{"i":168,"t":820,"a":0.066,"p":0.010,"c":0.041,"m":0.682,"l":0.161,"tg":50,"tc":21,"pg":71.3,"pc":50.1,"gl":49.8,"gh":92.5,"cl":33.1,"ch":66.7},
{"i":169,"t":825,"a":0.057,"p":0.010,"c":0.041,"m":0.699,"l":0.155,"tg":56,"tc":21,"pg":71.5,"pc":49.8,"gl":49.8,"gh":92.2,"cl":33.9,"ch":66.0},
{"i":170,"t":830,"a":0.066,"p":0.010,"c":0.033,"m":0.700,"l":0.151,"tg":59,"tc":22,"pg":71.5,"pc":49.8,"gl":49.8,"gh":93.5,"cl":32.9,"ch":66.0},
{"i":171,"t":835,"a":0.062,"p":0.010,"c":0.045,"m":0.699,"l":0.146,"tg":65,"tc":22,"pg":71.5,"pc":50.1,"gl":49.3,"gh":93.5,"cl":33.3,"ch":66.0},
{"i":172,"t":840,"a":0.062,"p":0.010,"c":0.037,"m":0.688,"l":0.164,"tg":69,"tc":22,"pg":71.8,"pc":50.3,"gl":49.8,"gh":93.5,"cl":34.3,"ch":66.5},
{"i":173,"t":845,"a":0.059,"p":0.010,"c":0.037,"m":0.702,"l":0.151,"tg":71,"tc":22,"pg":71.5,"pc":50.5,"gl":50.3,"gh":92.7,"cl":33.6,"ch":66.0},
{"i":174,"t":850,"a":0.069,"p":0.010,"c":0.037,"m":0.702,"l":0.143,"tg":74,"tc":22,"pg":71.5,"pc":49.8,"gl":50.3,"gh":93.5,"cl":32.6,"ch":66.0},
{"i":175,"t":855,"a":0.058,"p":0.010,"c":0.045,"m":0.704,"l":0.143,"tg":78,"tc":23,"pg":71.0,"pc":51.3,"gl":51.3,"gh":91.7,"cl":35.4,"ch":66.5},
{"i":176,"t":860,"a":0.068,"p":0.010,"c":0.042,"m":0.696,"l":0.145,"tg":84,"tc":27,"pg":71.5,"pc":49.8,"gl":49.1,"gh":93.0,"cl":33.1,"ch":66.3},
{"i":177,"t":865,"a":0.063,"p":0.010,"c":0.036,"m":0.698,"l":0.154,"tg":87,"tc":28,"pg":71.5,"pc":50.3,"gl":50.3,"gh":92.7,"cl":33.9,"ch":66.7},
{"i":178,"t":870,"a":0.063,"p":0.010,"c":0.038,"m":0.700,"l":0.149,"tg":93,"tc":28,"pg":71.7,"pc":51.1,"gl":49.8,"gh":91.9,"cl":34.3,"ch":66.5},
{"i":179,"t":875,"a":0.044,"p":0.010,"c":0.038,"m":0.701,"l":0.167,"tg":101,"tc":28,"pg":73.3,"pc":51.8,"gl":54.1,"gh":92.0,"cl":37.0,"ch":66.5},
{"i":180,"t":880,"a":0.044,"p":0.010,"c":0.040,"m":0.719,"l":0.146,"tg":109,"tc":28,"pg":72.7,"pc":51.5,"gl":53.5,"gh":91.5,"cl":36.7,"ch":66.2},
{"i":181,"t":885,"a":0.046,"p":0.010,"c":0.032,"m":0.729,"l":0.145,"tg":114,"tc":28,"pg":72.7,"pc":51.5,"gl":53.8,"gh":92.2,"cl":36.4,"ch":66.2}
]
},
"spacing": 32,
"bounds": "flush",
"resolve": {"scale": {"color": "independent", "strokeDash": "independent", "y": "independent"}, "legend": {"color": "independent", "strokeDash": "independent"}},
"vconcat": [
{
  "width": 1985, "height": 620,
  "layer": [
    {"data": {"name": "rounds"}, "mark": {"type": "rule", "color": "#666", "strokeWidth": 1, "strokeDash": [1.2, 2], "opacity": 0.8},
     "encoding": {"x": {"field": "t", "type": "quantitative", "scale": {"domain": [-44.25, 929.25], "nice": false, "zero": false},
        "axis": {"title": null, "labels": false, "values": [0, 200, 400, 600, 800], "grid": false, "tickSize": 5}}}},
    {"data": {"name": "flat"}, "mark": {"type": "line", "strokeWidth": 1.6, "opacity": 0.8},
     "encoding": {"x": {"field": "t", "type": "quantitative"},
       "y": {"field": "v", "type": "quantitative", "scale": {"domain": [0, 1.05], "nice": false, "zero": false},
          "axis": {"title": "Prob", "titleFontSize": 17, "titleX": -58, "titleBaseline": "alphabetic", "format": ".2f", "grid": true, "labelOverlap": false,
            "values": [0, 0.05, 0.1, 0.15, 0.2, 0.25, 0.3, 0.35, 0.4, 0.45, 0.5, 0.55, 0.6, 0.65, 0.7, 0.75, 0.8, 0.85, 0.9, 0.95, 1.0, 1.05]}},
       "color": {"field": "bin", "type": "nominal"}}},
    {"data": {"name": "d"}, "transform": [{"fold": ["a", "p", "c", "m", "l"], "as": ["bin", "v"]}],
     "mark": {"type": "line", "strokeWidth": 1.6, "opacity": 0.8},
     "encoding": {"x": {"field": "t", "type": "quantitative"},
       "y": {"field": "v", "type": "quantitative", "scale": {"domain": [0, 1.05], "nice": false, "zero": false},
          "axis": {"title": "Prob", "titleFontSize": 17, "titleX": -58, "titleBaseline": "alphabetic", "format": ".2f", "grid": true, "labelOverlap": false,
            "values": [0, 0.05, 0.1, 0.15, 0.2, 0.25, 0.3, 0.35, 0.4, 0.45, 0.5, 0.55, 0.6, 0.65, 0.7, 0.75, 0.8, 0.85, 0.9, 0.95, 1.0, 1.05]}},
       "color": {"field": "bin", "type": "nominal",
          "scale": {"domain": ["a", "o", "c", "l", "g", "p", "m", "k", "b"], "range": ["#e6194B", "#f58231", "#42d4f4", "#bfef45", "#3cb44b", "#911eb4", "#f032e6", "#fabed4", "#4363d8"]},
          "legend": {"orient": "none", "legendX": 1479, "legendY": 5, "columns": 4, "direction": "horizontal", "title": null,
            "symbolType": "M-1,0L4,0", "symbolSize": 100, "symbolStrokeWidth": 2, "symbolOpacity": 0.85, "symbolFillColor": "transparent",
            "labelFontSize": 11.8, "labelOffset": 26, "labelLimit": 0,
            "columnPadding": 23, "rowPadding": 5.5, "padding": 6, "fillColor": "rgba(255,255,255,0.8)", "strokeColor": "#cccccc", "cornerRadius": 3,
            "labelExpr": "datum.label=='a'?'0.0-18.5':datum.label=='g'?'18.5-38.5':datum.label=='b'?'38.5-58.5':datum.label=='o'?'58.5-78.5':datum.label=='p'?'78.5-98.5':datum.label=='c'?'98.5-118.5':datum.label=='m'?'118.5-138.5':datum.label=='l'?'138.5-158.5':'158.5+'"}},
       "order": {"field": "i", "type": "quantitative"}}},
    {"data": {"name": "rounds"}, "mark": {"type": "text", "align": "left", "baseline": "alphabetic", "dx": 4, "fontSize": 14.4, "color": "#666"},
     "encoding": {"x": {"field": "t", "type": "quantitative"},
       "y": {"datum": 1.0, "type": "quantitative", "scale": {"domain": [0, 1.05], "nice": false, "zero": false},
          "axis": {"title": "Prob", "titleFontSize": 17, "titleX": -58, "titleBaseline": "alphabetic", "format": ".2f", "grid": true, "labelOverlap": false,
            "values": [0, 0.05, 0.1, 0.15, 0.2, 0.25, 0.3, 0.35, 0.4, 0.45, 0.5, 0.55, 0.6, 0.65, 0.7, 0.75, 0.8, 0.85, 0.9, 0.95, 1.0, 1.05]}},
       "text": {"field": "r"}}}
  ]
},
{
  "width": 1985, "height": 415,
  "layer": [
    {"data": {"name": "rounds"}, "mark": {"type": "rule", "color": "#666", "strokeWidth": 1, "strokeDash": [1.2, 2], "opacity": 0.8},
     "encoding": {"x": {"field": "t", "type": "quantitative", "scale": {"domain": [-44.25, 929.25], "nice": false, "zero": false},
        "axis": {"title": "Fight time (seconds)", "titleFontSize": 20.8, "titlePadding": 4, "labelPadding": 13, "values": [0, 200, 400, 600, 800], "grid": false, "tickSize": 5}}}},
    {"data": {"name": "d"}, "mark": {"type": "area", "color": "#ff0000", "fillOpacity": 0.14, "stroke": "#ff0000", "strokeOpacity": 0.15, "strokeWidth": 1},
     "encoding": {"x": {"field": "t", "type": "quantitative"},
       "y": {"field": "gl", "type": "quantitative", "scale": {"domain": [-5.7, 119.7], "nice": false, "zero": false},
          "axis": {"title": "Count", "titleFontSize": 17, "titleX": -58, "titleBaseline": "alphabetic", "grid": true, "labelOverlap": false,
            "values": [0, 5, 10, 15, 20, 25, 30, 35, 40, 45, 50, 55, 60, 65, 70, 75, 80, 85, 90, 95, 100, 105, 110, 115],
            "labelExpr": "datum.value % 20 === 0 ? datum.label : ''",
            "gridColor": {"condition": {"test": "datum.value % 20 === 0", "value": "#dadada"}, "value": "#ececec"},
            "tickOpacity": {"condition": {"test": "datum.value % 20 === 0", "value": 1}, "value": 0}}},
       "y2": {"field": "gh"}}},
    {"data": {"name": "d"}, "mark": {"type": "area", "color": "#0000ff", "fillOpacity": 0.14, "stroke": "#0000ff", "strokeOpacity": 0.15, "strokeWidth": 1},
     "encoding": {"x": {"field": "t", "type": "quantitative"},
       "y": {"field": "cl", "type": "quantitative"},
       "y2": {"field": "ch"}}},
    {"data": {"name": "d"}, "transform": [{"fold": ["tg", "tc"], "as": ["s", "v"]}],
     "mark": {"type": "line", "strokeWidth": 2.8, "opacity": 0.75},
     "encoding": {"x": {"field": "t", "type": "quantitative"},
       "y": {"field": "v", "type": "quantitative"},
       "color": {"field": "s", "type": "nominal",
          "scale": {"domain": ["tg", "tc", "pg", "pc"], "range": ["#ff0000", "#0000ff", "#ff0000", "#0000ff"]},
          "legend": {"orient": "none", "legendX": 7, "legendY": 6, "title": null, "symbolType": "M-1,0L4.33,0", "symbolSize": 144, "symbolStrokeWidth": 2.6,
            "symbolOpacity": 0.7, "symbolFillColor": "transparent", "labelFontSize": 14.2, "labelOffset": 31, "labelLimit": 0, "rowPadding": 7.2, "padding": 7,
            "fillColor": "rgba(255,255,255,0.8)", "strokeColor": "#cccccc", "cornerRadius": 3,
            "labelExpr": "datum.label=='tg'?'Truth GURGEN HOVHANNISYAN: 114':datum.label=='tc'?'Truth CESAR NAVARRO: 28':datum.label=='pg'?'Predicted GURGEN HOVHANNISYAN: 45.7':'Predicted CESAR NAVARRO: 41.0'"}},
       "strokeDash": {"field": "s", "type": "nominal",
          "scale": {"domain": ["tg", "tc", "pg", "pc"], "range": [[1, 0], [1, 0], [2.2, 3.4], [2.2, 3.4]]}},
       "order": {"field": "i", "type": "quantitative"}}},
    {"data": {"name": "d"}, "transform": [{"fold": ["pg", "pc"], "as": ["s", "v"]}],
     "mark": {"type": "line", "strokeWidth": 2.2, "opacity": 0.55},
     "encoding": {"x": {"field": "t", "type": "quantitative"},
       "y": {"field": "v", "type": "quantitative"},
       "color": {"field": "s", "type": "nominal"},
       "strokeDash": {"field": "s", "type": "nominal"},
       "order": {"field": "i", "type": "quantitative"}}},
    {"data": {"name": "rounds"}, "mark": {"type": "text", "align": "left", "baseline": "alphabetic", "dx": 4, "fontSize": 14.4, "color": "#666"},
     "encoding": {"x": {"field": "t", "type": "quantitative"}, "y": {"datum": 112.5, "type": "quantitative"}, "text": {"field": "r"}}}
  ]
}
]
}
